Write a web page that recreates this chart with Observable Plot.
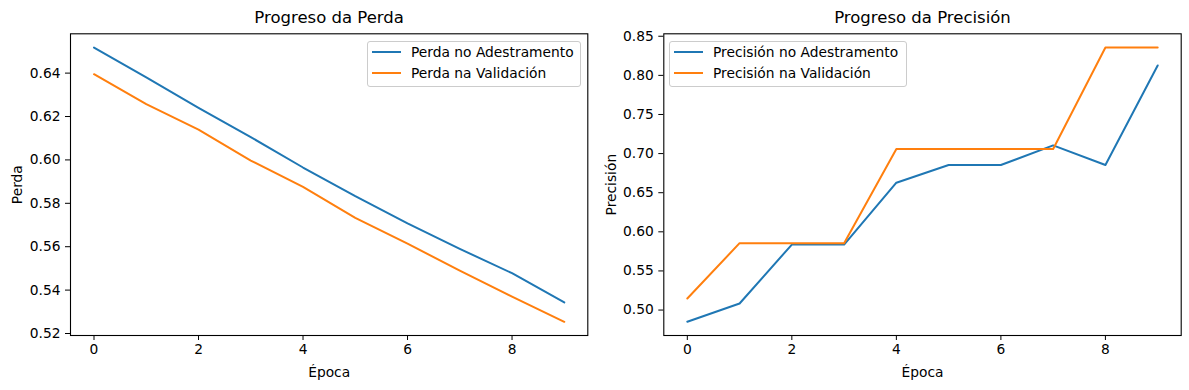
<!DOCTYPE html>
<html>
<head>
<meta charset="utf-8">
<script src="https://cdn.jsdelivr.net/npm/d3@7"></script>
<script src="https://cdn.jsdelivr.net/npm/@observablehq/plot@0.6"></script>
<style>
  body { margin: 0; background: #fff; font-family: "DejaVu Sans", sans-serif; }
  #wrap { position: relative; width: 1189px; height: 390px; overflow: hidden; }
  .panel { position: absolute; top: 0; }
  .legend { position: absolute; background: rgba(255,255,255,0.8); border: 1px solid #cccccc; border-radius: 3px; font-size: 13.8px; color: #000; }
  .entry { position: absolute; white-space: nowrap; line-height: 16px; }
  .swatch { position: absolute; height: 0; border-top: 2px solid; }
</style>
</head>
<body>
<div id="wrap"></div>
<script>
const epochs = [0, 1, 2, 3, 4, 5, 6, 7, 8, 9];
const lossTrain = [0.6518, 0.638, 0.624, 0.6105, 0.5965, 0.5833, 0.5708, 0.559, 0.5478, 0.5343];
const lossVal = [0.6395, 0.6257, 0.614, 0.5997, 0.5876, 0.5733, 0.5614, 0.549, 0.537, 0.5254];
const accTrain = [0.485, 0.5084, 0.5837, 0.5837, 0.6628, 0.6854, 0.6854, 0.7105, 0.6854, 0.8126];
const accVal = [0.5148, 0.5855, 0.5855, 0.5855, 0.7058, 0.7058, 0.7058, 0.7058, 0.8356, 0.8356];
const xTicks = [0, 2, 4, 6, 8];
const lossTicks = [0.52, 0.54, 0.56, 0.58, 0.60, 0.62, 0.64];
const accTicks = [0.50, 0.55, 0.60, 0.65, 0.70, 0.75, 0.80, 0.85];
const colors = ["#1f77b4", "#ff7f0e"];

function padded(vals) {
  const [a, b] = d3.extent(vals);
  const m = (b - a) * 0.05;
  return [a - m, b + m];
}

function panel({left, width, mLeft, mRight, train, val, yTicks, title, ylabel, legendLabels, legendBox}) {
  const rowsT = epochs.map((e, i) => ({epoch: e, v: train[i]}));
  const rowsV = epochs.map((e, i) => ({epoch: e, v: val[i]}));
  const chart = Plot.plot({
    width, height: 390,
    marginLeft: mLeft, marginRight: mRight, marginTop: 33.3, marginBottom: 55,
    style: {fontFamily: "DejaVu Sans, sans-serif", fontSize: "13.8px", color: "#000", background: "#fff", overflow: "visible"},
    x: {domain: padded(epochs), ticks: xTicks, tickFormat: d3.format("d"), tickSize: 5, tickPadding: 4, label: null},
    y: {domain: padded(train.concat(val)), ticks: yTicks, tickFormat: d3.format(".2f"), tickSize: 5, tickPadding: 5, label: null},
    marks: [
      Plot.line(rowsT, {x: "epoch", y: "v", stroke: colors[0], strokeWidth: 2}),
      Plot.line(rowsV, {x: "epoch", y: "v", stroke: colors[1], strokeWidth: 2}),
      Plot.frame({stroke: "#000", strokeWidth: 1.1}),
      Plot.text([title], {frameAnchor: "top", dy: -16, lineAnchor: "middle", fontSize: 16.5, fill: "#000"}),
      Plot.text([ylabel], {frameAnchor: "left", dx: -(mLeft - 17), rotate: -90, lineAnchor: "middle", textAnchor: "middle", fill: "#000"}),
      Plot.text(["Época"], {frameAnchor: "bottom", dy: 37, lineAnchor: "middle", fill: "#000"})
    ]
  });
  const div = document.createElement("div");
  div.className = "panel";
  div.style.left = left + "px";
  div.appendChild(chart);
  document.getElementById("wrap").appendChild(div);

  const lg = document.createElement("div");
  lg.className = "legend";
  lg.style.left = legendBox.x + "px";
  lg.style.top = legendBox.y + "px";
  lg.style.width = legendBox.w + "px";
  lg.style.height = legendBox.h + "px";
  legendLabels.forEach((lab, i) => {
    const sw = document.createElement("div");
    sw.className = "swatch";
    sw.style.borderTopColor = colors[i];
    sw.style.left = "4px";
    sw.style.width = "29px";
    sw.style.top = (9.5 + i * 20.7) + "px";
    lg.appendChild(sw);
    const t = document.createElement("div");
    t.className = "entry";
    t.textContent = lab;
    t.style.left = "43px";
    t.style.top = (2.5 + i * 20.7) + "px";
    lg.appendChild(t);
  });
  document.getElementById("wrap").appendChild(lg);
}

panel({left: 0, width: 594, mLeft: 70, mRight: 6.7, train: lossTrain, val: lossVal, yTicks: lossTicks,
  title: "Progreso da Perda", ylabel: "Perda",
  legendLabels: ["Perda no Adestramento", "Perda na Validación"],
  legendBox: {x: 367, y: 40.5, w: 212, h: 44}});
panel({left: 594, width: 595, mLeft: 69.3, mRight: 8.3, train: accTrain, val: accVal, yTicks: accTicks,
  title: "Progreso da Precisión", ylabel: "Precisión",
  legendLabels: ["Precisión no Adestramento", "Precisión na Validación"],
  legendBox: {x: 669, y: 40.5, w: 236, h: 44}});
</script>
</body>
</html>
